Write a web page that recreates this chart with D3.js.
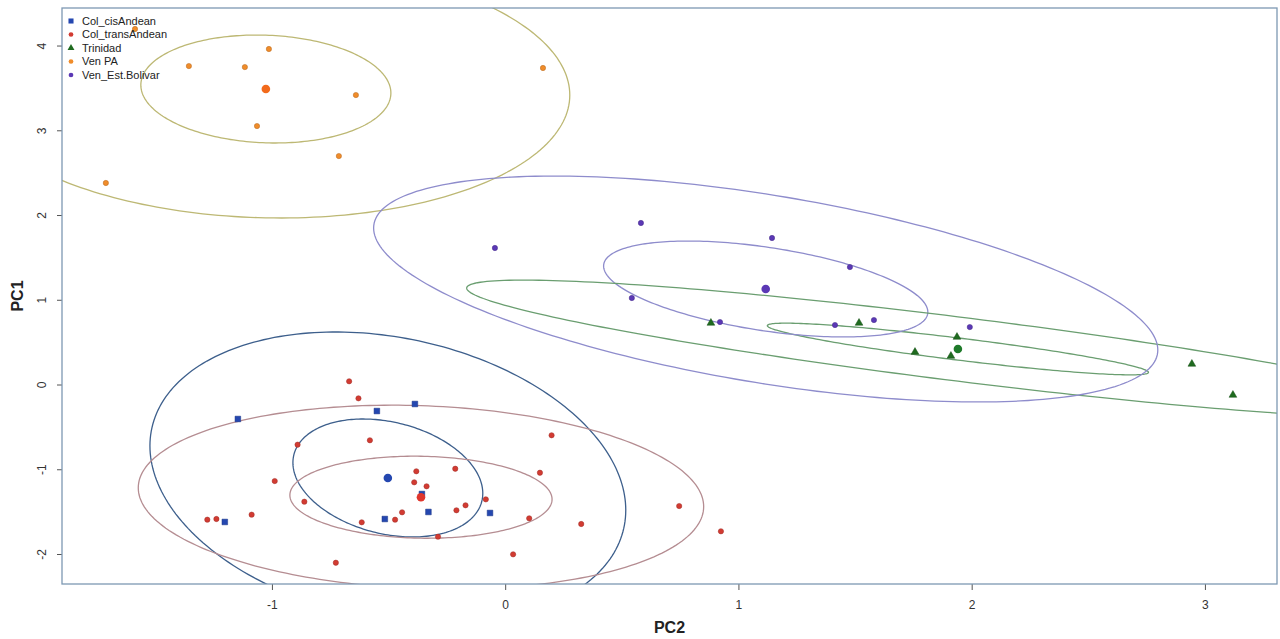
<!DOCTYPE html>
<html>
<head>
<meta charset="utf-8">
<script src="https://cdn.jsdelivr.net/npm/d3@7"></script>
<style>
  body { margin: 0; background: #fff; }
  svg { display: block; }
  text { font-family: "Liberation Sans", Arial, sans-serif; }
</style>
</head>
<body>
<div id="graph"></div>
<script>
// groups in legend order
const groups = ["Col_cisAndean", "Col_transAndean", "Trinidad", "Ven PA", "Ven_Est.Bolivar"];

// sample scores, [PC2, PC1]
const cisAndean = [[-1.146, -0.407], [-0.550, -0.313], [-0.387, -0.230], [-1.202, -1.622],
  [-0.516, -1.587], [-0.329, -1.504], [-0.065, -1.516], [-0.357, -1.292]];
const transAndean = [[-0.669, 0.038], [-0.629, -0.163], [-0.580, -0.658], [-0.890, -0.710],
  [0.199, -0.599], [-0.988, -1.139], [-0.381, -1.024], [-0.214, -0.994], [0.149, -1.041],
  [-0.390, -1.154], [-0.337, -1.201], [-0.861, -1.383], [-0.083, -1.355], [-0.170, -1.425],
  [-0.209, -1.484], [-0.442, -1.508], [-0.472, -1.595], [-0.615, -1.626], [-1.087, -1.536],
  [-1.277, -1.595], [-1.238, -1.587], [0.103, -1.579], [0.326, -1.646], [0.746, -1.434],
  [0.925, -1.732], [-0.288, -1.796], [0.034, -2.004], [-0.726, -2.103]];
const trinidad = [[0.882, 0.726], [1.517, 0.726], [1.757, 0.383], [1.911, 0.336],
  [1.937, 0.560], [2.944, 0.242], [3.120, -0.124]];
const venPA = [[-1.587, 4.195], [-1.013, 3.959], [-1.356, 3.758], [-1.116, 3.746],
  [-0.640, 3.416], [-1.064, 3.050], [-0.713, 2.696], [-1.712, 2.378], [0.162, 3.735]];
const venBolivar = [[-0.044, 1.611], [0.582, 1.906], [1.144, 1.729], [1.478, 1.386],
  [0.543, 1.021], [0.921, 0.737], [1.414, 0.702], [1.581, 0.761], [1.992, 0.678]];

const groupPoints = [cisAndean, transAndean, trinidad, venPA, venBolivar];

// group means [PC2, PC1]
const centroids = [[-0.503, -1.103], [-0.361, -1.330], [1.941, 0.419], [-1.026, 3.487], [1.117, 1.127]];

// ellipses around the means: [half width PC2, half height PC1, correlation]
const innerEllipse = [[0.407, 0.696, -0.26], [0.562, 0.484, -0.05], [0.817, 0.305, -0.903],
  [0.536, 0.637, -0.074], [0.695, 0.566, -0.479]];
const outerEllipse = [[1.020, 1.723, -0.22], [1.212, 1.086, -0.102], [2.106, 0.813, -0.884],
  [1.303, 1.522, -0.047], [1.681, 1.333, -0.54]];

const xTicks = [-1, 0, 1, 2, 3];
const yTicks = [-2, -1, 0, 1, 2, 3, 4];

// styles
const pointColor = ["#2447b0", "#d23b32", "#1f6b1f", "#f08c2a", "#5b38b5"];
const centroidColor = ["#2447b0", "#e0362c", "#1f7a2a", "#f26a1b", "#5b38b5"];
const lineColor = ["#3d5f8c", "#b58d92", "#6a9e70", "#bdb874", "#8e8ccc"];
const shapes = [d3.symbolSquare, d3.symbolCircle, d3.symbolTriangle, d3.symbolCircle, d3.symbolCircle];
const shapeSize = [32, 22, 26, 22, 22];

const w = 1280;
const h = 639;
const margin = { top: 8, right: 3, bottom: 55, left: 62 };

const x = d3.scaleLinear().domain([-1.900, 3.309]).range([margin.left, w - margin.right]);
const y = d3.scaleLinear().domain([-2.354, 4.443]).range([h - margin.bottom, margin.top]);

const svg = d3.select("#graph").append("svg").attr("width", w).attr("height", h);

svg.append("clipPath").attr("id", "plot-clip")
  .append("rect")
  .attr("x", margin.left).attr("y", margin.top)
  .attr("width", w - margin.left - margin.right)
  .attr("height", h - margin.top - margin.bottom);

// ellipse outline from centre, half extents and correlation
function ellipsePoints(c, e) {
  const pts = [];
  const k = Math.sqrt(1 - e[2] * e[2]);
  for (let i = 0; i < 240; i++) {
    const t = i / 240 * 2 * Math.PI;
    pts.push([c[0] + e[0] * Math.cos(t), c[1] + e[1] * (e[2] * Math.cos(t) + k * Math.sin(t))]);
  }
  return pts;
}

const line = d3.line().x(d => x(d[0])).y(d => y(d[1])).curve(d3.curveLinearClosed);

const ell = svg.append("g").attr("clip-path", "url(#plot-clip)");
[innerEllipse, outerEllipse].forEach(set => {
  ell.selectAll(null)
    .data(set)
    .enter()
    .append("path")
    .attr("d", (e, i) => line(ellipsePoints(centroids[i], e)))
    .attr("fill", "none")
    .attr("stroke", (e, i) => lineColor[i])
    .attr("stroke-width", 1.3);
});

// sample points
const pts = svg.append("g");
groupPoints.forEach((list, g) => {
  pts.selectAll(null)
    .data(list)
    .enter()
    .append("path")
    .attr("d", d3.symbol().type(shapes[g]).size(shapeSize[g]))
    .attr("transform", d => `translate(${x(d[0])},${y(d[1])})`)
    .attr("fill", pointColor[g])
    .attr("stroke", d3.color(pointColor[g]).darker(0.8))
    .attr("stroke-width", 0.5);
});

// group means
svg.append("g")
  .selectAll("circle")
  .data(centroids)
  .enter()
  .append("circle")
  .attr("cx", d => x(d[0]))
  .attr("cy", d => y(d[1]))
  .attr("r", 4.3)
  .attr("fill", (d, i) => centroidColor[i]);

// axes, plain hyphen for negatives like R
const fmt = d => String(d);
const xAxis = d3.axisBottom(x).tickValues(xTicks).tickSize(6).tickPadding(10).tickFormat(fmt);
const gx = svg.append("g")
  .attr("transform", `translate(0,${h - margin.bottom})`)
  .call(xAxis);
gx.select(".domain").remove();

const yAxis = d3.axisLeft(y).tickValues(yTicks).tickSize(5).tickFormat(fmt);
const gy = svg.append("g")
  .attr("transform", `translate(${margin.left},0)`)
  .call(yAxis);
gy.select(".domain").remove();
gy.selectAll("text")
  .attr("transform", "rotate(-90)")
  .attr("x", 0)
  .attr("y", -20)
  .attr("dy", "0.35em")
  .attr("text-anchor", "middle");

svg.selectAll(".tick line").attr("stroke", "#555");
svg.selectAll(".tick text")
  .attr("fill", "#333")
  .style("font-size", "12px")
  .style("font-family", "'Liberation Sans Narrow', 'Liberation Sans', Arial, sans-serif");

// frame
svg.append("rect")
  .attr("x", margin.left).attr("y", margin.top)
  .attr("width", w - margin.left - margin.right)
  .attr("height", h - margin.top - margin.bottom)
  .attr("fill", "none")
  .attr("stroke", "#7d98b3")
  .attr("stroke-width", 1.3);

// axis titles
svg.append("text")
  .attr("x", (x.range()[0] + x.range()[1]) / 2)
  .attr("y", 633)
  .attr("text-anchor", "middle")
  .style("font-weight", "bold")
  .style("font-size", "16px")
  .attr("fill", "#222")
  .text("PC2");

svg.append("text")
  .attr("transform", `translate(23,${(y.range()[0] + y.range()[1]) / 2}) rotate(-90)`)
  .attr("text-anchor", "middle")
  .style("font-weight", "bold")
  .style("font-size", "16px")
  .attr("fill", "#222")
  .text("PC1");

// legend
const legend = svg.append("g").attr("transform", "translate(71,21)");
const rows = legend.selectAll("g")
  .data(groups)
  .enter()
  .append("g")
  .attr("transform", (d, i) => `translate(0,${i * 13.5})`);
rows.append("path")
  .attr("d", (d, i) => d3.symbol().type(shapes[i]).size(shapeSize[i] * 0.8)())
  .attr("fill", (d, i) => pointColor[i]);
rows.append("text")
  .attr("x", 11)
  .attr("dy", "0.35em")
  .style("font-size", "11px")
  .attr("fill", "#222")
  .text(d => d);
</script>
</body>
</html>
